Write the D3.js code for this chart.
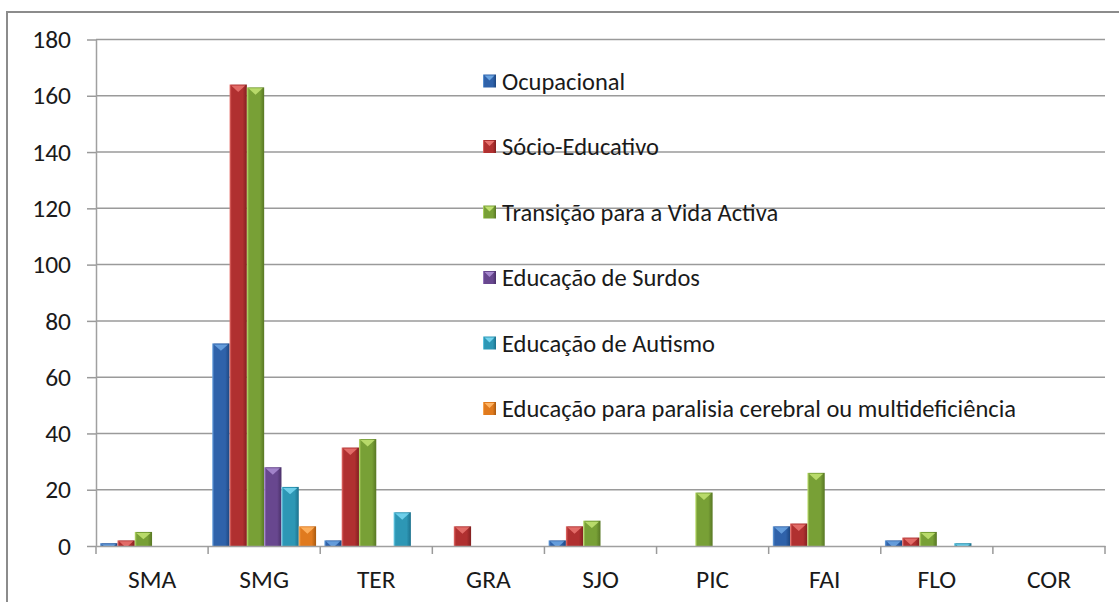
<!DOCTYPE html>
<html><head><meta charset="utf-8">
<script src="https://cdn.jsdelivr.net/npm/d3@7"></script>
<style>body{margin:0;background:#fff}svg{display:block}</style>
</head><body><svg id="c" width="1119" height="602"></svg>
<script>
const categories = ["SMA","SMG","TER","GRA","SJO","PIC","FAI","FLO","COR"];
const seriesNames = ["Ocupacional","Sócio-Educativo","Transição para a Vida Activa","Educação de Surdos","Educação de Autismo","Educação para paralisia cerebral ou multideficiência"];
const ocupacional    = [1, 72,  2, 0, 2,  0,  7, 2, 0];
const socioEducativo = [2, 164, 35, 7, 7, 0,  8, 3, 0];
const transicao      = [5, 163, 38, 0, 9, 19, 26, 5, 0];
const surdos         = [0, 28,  0, 0, 0, 0,  0, 0, 0];
const autismo        = [0, 21, 12, 0, 0, 0,  0, 1, 0];
const paralisia      = [0, 7,   0, 0, 0, 0,  0, 0, 0];
const seriesValues = [ocupacional, socioEducativo, transicao, surdos, autismo, paralisia];
const yTicks = [0,20,40,60,80,100,120,140,160,180];

const palette = [
  {base:"#2f62aa", light:"#6aa3e0", dark:"#1d4680"},
  {base:"#b03030", light:"#e8726e", dark:"#832020"},
  {base:"#78a036", light:"#bfe070", dark:"#587724"},
  {base:"#68478f", light:"#a789cf", dark:"#4a3169"},
  {base:"#2d97b5", light:"#74d4ee", dark:"#1c718d"},
  {base:"#e07a1e", light:"#ffb463", dark:"#a8590f"}
];
const FONT = "Carlito, Calibri, Lato, sans-serif";

const svg = d3.select("#c");
const defs = svg.append("defs");
palette.forEach((p,i)=>{
  const g = defs.append("linearGradient").attr("id","g"+i).attr("x1","0").attr("x2","1").attr("y1","0").attr("y2","0");
  g.append("stop").attr("offset","0%").attr("stop-color",p.light);
  g.append("stop").attr("offset","12%").attr("stop-color",p.base);
  g.append("stop").attr("offset","75%").attr("stop-color",p.base);
  g.append("stop").attr("offset","100%").attr("stop-color",p.dark);
});

// outer frame
svg.append("rect").attr("x",7).attr("y",12).attr("width",1130).attr("height",620)
  .attr("fill","#fff").attr("stroke","#8c8c8c").attr("stroke-width",2);

const plotLeft = 96, plotRight = 1105, plotTop = 39.5, plotBottom = 546;
const x0 = d3.scaleBand().domain(categories).range([plotLeft,plotRight]).paddingInner(0).paddingOuter(0);
const x1 = d3.scaleBand().domain(d3.range(seriesNames.length)).range([0,x0.bandwidth()]).paddingInner(0).paddingOuter(0.24);
const y = d3.scaleLinear().domain([0,180]).range([plotBottom,plotTop]);

// gridlines
svg.append("g").selectAll("line").data(yTicks.filter(d=>d>0)).join("line")
  .attr("x1",plotLeft).attr("x2",plotRight).attr("y1",d=>y(d)).attr("y2",d=>y(d))
  .attr("stroke","#9a9a9a").attr("stroke-width",1.5);

// y axis
const yAxis = d3.axisLeft(y).tickValues(yTicks).tickSize(9).tickPadding(16).tickSizeOuter(0);
const ya = svg.append("g").attr("transform",`translate(${plotLeft},0)`).call(yAxis);
ya.select(".domain").attr("stroke","#a0a0a0").attr("stroke-width",1.5);
ya.selectAll(".tick line").attr("stroke","#9a9a9a").attr("stroke-width",1.5);
ya.selectAll("text").attr("font-family",FONT).attr("font-size",25.5).attr("fill","#1a1a1a");

// bars
const barData = [];
categories.forEach((c,ci)=>seriesValues.forEach((vals,si)=>barData.push({c,si,v:vals[ci]})));
const bars = svg.append("g");
bars.selectAll("rect").data(barData.filter(d=>d.v>0)).join("rect")
  .attr("x",d=>x0(d.c)+x1(d.si)).attr("width",x1.bandwidth())
  .attr("y",d=>y(d.v)).attr("height",d=>plotBottom-y(d.v))
  .attr("fill",d=>`url(#g${d.si})`);
bars.selectAll("polygon").data(barData.filter(d=>d.v>0)).join("polygon")
  .attr("fill",d=>palette[d.si].light).attr("opacity",0.9)
  .attr("points",d=>{
    const w = x1.bandwidth(), xx = x0(d.c)+x1(d.si)+1.5, ww = w-3, t = y(d.v)+1, h = plotBottom-y(d.v)-1;
    const th = ww*0.45;
    if (h >= th) return `${xx},${t} ${xx+ww},${t} ${xx+ww/2},${t+th}`;
    const f = Math.max(h,0)/th;
    return `${xx},${t} ${xx+ww},${t} ${xx+ww-f*ww/2},${t+Math.max(h,0)} ${xx+f*ww/2},${t+Math.max(h,0)}`;
  });

// x axis
const xAxis = d3.axisBottom(x0).tickSize(0).tickPadding(24);
const xa = svg.append("g").attr("transform",`translate(0,${plotBottom})`).call(xAxis);
xa.select(".domain").attr("stroke","#a0a0a0").attr("stroke-width",1.5);
xa.selectAll("text").attr("font-family",FONT).attr("font-size",25.5).attr("fill","#1a1a1a");
svg.append("g").selectAll("line").data(categories.map(c=>x0(c)).concat([plotRight])).join("line")
  .attr("x1",d=>d).attr("x2",d=>d).attr("y1",plotBottom).attr("y2",plotBottom+8)
  .attr("stroke","#9a9a9a").attr("stroke-width",1.5);

// legend
const leg = svg.append("g").attr("transform","translate(483,0)");
const items = leg.selectAll("g").data(seriesNames).join("g")
  .attr("transform",(d,i)=>`translate(0,${81 + i*65.5})`);
items.append("rect").attr("x",0).attr("y",-6.5).attr("width",13).attr("height",13)
  .attr("fill",(d,i)=>`url(#g${i})`);
items.append("polygon").attr("fill",(d,i)=>palette[i].light)
  .attr("points","1.5,-5.5 11.5,-5.5 6.5,-0.5");
items.append("text").attr("x",19).attr("y",0).attr("dy","0.35em")
  .attr("font-family",FONT).attr("font-size",24.5).attr("fill","#1a1a1a").text(d=>d);
</script></body></html>
